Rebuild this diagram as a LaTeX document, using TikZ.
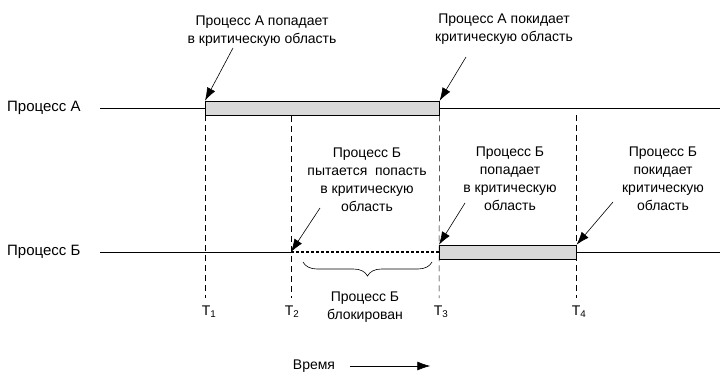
\documentclass[tikz,border=0pt]{standalone}
\usepackage{fontspec}
\setmainfont{Liberation Sans}
\usetikzlibrary{arrows.meta, positioning, decorations.pathreplacing}

\begin{document}
\begin{tikzpicture}[
    x=1pt, y=-1pt,
    every node/.style={font=\fontsize{14}{18}\selectfont, align=center, inner sep=0pt},
    side/.style={font=\fontsize{15}{18}\selectfont, anchor=west},
    bar/.style={draw, fill=gray!30, line width=0.6pt, minimum height=14pt, anchor=west},
    timeline/.style={line width=0.7pt},
    tick/.style={line width=0.5pt, dash pattern=on 6pt off 4pt},
    blocked/.style={line width=1.2pt, dash pattern=on 3pt off 2pt},
    callout/.style={-{Latex[length=13pt,width=9pt]}, line width=0.6pt},
    >=Latex
]
\useasboundingbox (0,0) rectangle (727,379);

% Process lines
\node[side] (procA) at (7,108) {Процесс А};
\node[side] (procB) at (7,252) {Процесс Б};
\coordinate (startA) at (100,108);
\coordinate (startB) at (100,252);
\coordinate (endA) at (720,108);
\coordinate (endB) at (720,252);
\coordinate (t2b) at (291,252);

% Bars
\node[bar, minimum width=234pt] (barA) at (205,108) {};
\node[bar, minimum width=137pt] (barB) at (439,252) {};

% Time labels
\node (T1) at (209,312) {T\textsubscript{1}};
\node (T2) at (292,312) {T\textsubscript{2}};
\node (T3) at (441,312) {T\textsubscript{3}};
\node (T4) at (579,312) {T\textsubscript{4}};

% Callouts
\node (enterA) at (262,31) {Процесс А попадает\\в критическую область};
\node (leaveA) at (504,29) {Процесс А покидает\\критическую область};
\node (tryB) at (367,180) {Процесс Б\\пытается\ \ попасть\\в критическую\\область};
\node (enterB) at (510,179) {Процесс Б\\попадает\\в критическую\\область};
\node (leaveB) at (663,179) {Процесс Б\\покидает\\критическую\\область};
\node (block) at (365,307) {Процесс Б\\блокирован};
\node (time) at (314,366) {Время};

\coordinate (enterAtail) at (233,48);
\coordinate (leaveAtail) at (466,57);
\coordinate (tryBtail) at (320,208);
\coordinate (enterBtail) at (465,203);
\coordinate (leaveBtail) at (613,202);

% Lines
\draw[timeline] (startA) -- (barA.west);
\draw[timeline] (barA.east) -- (endA);
\draw[timeline] (startB) -- (t2b);
\draw[blocked] (t2b) -- (barB.west);
\draw[timeline] (barB.east) -- (endB);

% Ticks
\draw[tick] (barA.south west) -- (205,298);
\draw[tick] (291,116) -- (291,298);
\draw[tick] (barA.south east) -- (439,298);
\draw[tick] (576,115) -- (576,298);

% Brace
\draw[line width=0.6pt, decorate, decoration={brace, mirror, amplitude=14pt}] (303,262) -- (432,262);

% Arrows
\draw[callout] (enterAtail) -- (barA.north west);
\draw[callout] (leaveAtail) -- (barA.north east);
\draw[callout] (tryBtail) -- (t2b);
\draw[callout] (enterBtail) -- (barB.north west);
\draw[callout] (leaveBtail) -- (barB.north east);
\draw[callout] ([xshift=15pt]time.east) -- ++(80,0);

\end{tikzpicture}
\end{document}
